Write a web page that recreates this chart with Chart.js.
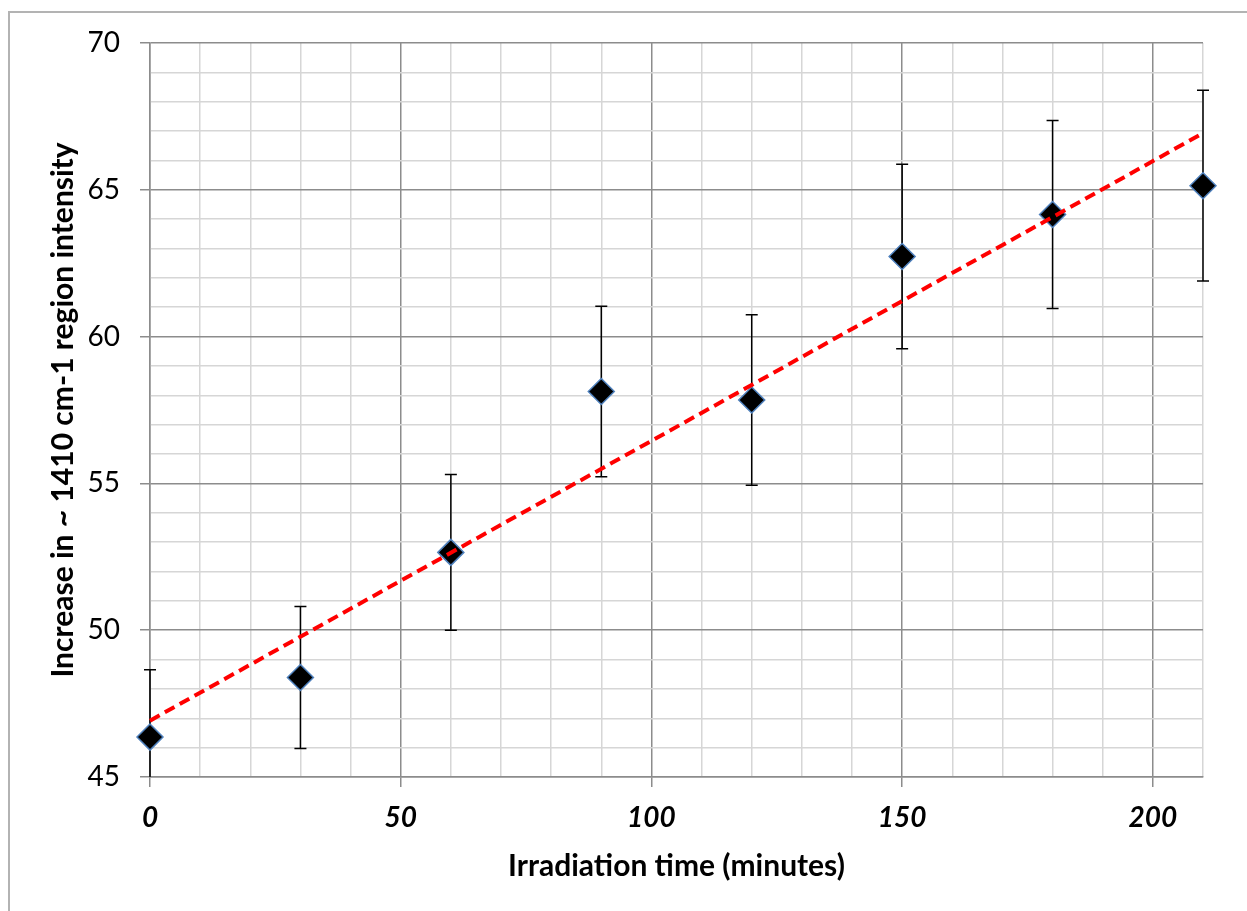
<!DOCTYPE html>
<html>
<head>
<meta charset="utf-8">
<script src="https://cdn.jsdelivr.net/npm/chart.js@4"></script>
<style>
    html, body { margin: 0; padding: 0; background: #fff; }
    #wrap { position: relative; width: 1247px; height: 911px; overflow: hidden; }
    #frame { position: absolute; left: 8px; top: 11px; width: 1300px; height: 1000px;
             border-left: 2px solid #b3b3b3; border-top: 2px solid #b3b3b3; }
    #chart { position: absolute; left: 0; top: 0; }
</style>
</head>
<body>
<div id="wrap">
    <div id="frame"></div>
    <canvas id="chart" width="1247" height="911"></canvas>
</div>
<script>
// irradiation times (minutes)
const times = [0, 30, 60, 90, 120, 150, 180, 210];
// mean increase in ~1410 cm-1 region intensity
const intensity = [46.36, 48.39, 52.65, 58.13, 57.84, 62.73, 64.16, 65.14];
// error bar half-widths
const errors = [2.29, 2.42, 2.65, 2.9, 2.9, 3.14, 3.2, 3.25];
// linear trendline end points
const trendX = [0, 210];
const trendY = [46.92, 66.93];

const FONT = 'Lato, "Open Sans", sans-serif';
const MAJOR = '#8c8c8c';
const MINOR = '#d6d6d6';

// draws vertical error bars with caps under the markers
const errorBars = {
    id: 'errorBars',
    beforeDatasetsDraw(chart) {
        const { ctx, chartArea, scales } = chart;
        ctx.save();
        ctx.beginPath();
        ctx.rect(chartArea.left - 10, chartArea.top, chartArea.right - chartArea.left + 20, chartArea.bottom - chartArea.top);
        ctx.clip();
        ctx.strokeStyle = '#000';
        ctx.lineWidth = 1.5;
        times.forEach((t, i) => {
            const x = scales.x.getPixelForValue(t);
            const yTop = scales.y.getPixelForValue(intensity[i] + errors[i]);
            const yBot = scales.y.getPixelForValue(intensity[i] - errors[i]);
            ctx.beginPath();
            ctx.moveTo(x, yTop);
            ctx.lineTo(x, yBot);
            ctx.moveTo(x - 6, yTop);
            ctx.lineTo(x + 6, yTop);
            ctx.moveTo(x - 6, yBot);
            ctx.lineTo(x + 6, yBot);
            ctx.stroke();
        });
        ctx.restore();
    }
};

new Chart(document.getElementById('chart').getContext('2d'), {
    type: 'scatter',
    data: {
        datasets: [
            {
                type: 'line',
                label: 'Trend',
                data: trendX.map((x, i) => ({ x: x, y: trendY[i] })),
                borderColor: '#ff0000',
                borderWidth: 4,
                borderDash: [11, 6],
                pointRadius: 0,
                fill: false,
                clip: false,
                order: 0
            },
            {
                label: 'Intensity',
                data: times.map((t, i) => ({ x: t, y: intensity[i] })),
                pointStyle: 'rectRot',
                pointRadius: 13,
                pointHoverRadius: 13,
                backgroundColor: '#000',
                borderColor: '#4f81bd',
                borderWidth: 1.5,
                clip: false,
                order: 1
            }
        ]
    },
    options: {
        responsive: false,
        animation: false,
        layout: { padding: { left: 0, top: 43, right: 44, bottom: 0 } },
        plugins: {
            legend: { display: false },
            tooltip: { enabled: false }
        },
        scales: {
            x: {
                type: 'linear',
                min: 0,
                max: 210,
                afterFit(scale) { scale.height = 134; },
                ticks: {
                    stepSize: 10,
                    autoSkip: false,
                    maxRotation: 0,
                    padding: 14,
                    color: '#000',
                    font: { family: FONT, size: 28, weight: 'bold', style: 'italic' },
                    callback: v => (v % 50 === 0 ? v : '')
                },
                grid: {
                    color: ctx => (ctx.tick && ctx.tick.value % 50 === 0 ? MAJOR : MINOR),
                    tickColor: ctx => (ctx.tick && ctx.tick.value % 50 === 0 ? MAJOR : 'rgba(0,0,0,0)'),
                    lineWidth: 1.5,
                    tickLength: 10
                },
                border: { color: MAJOR, width: 1.5 },
                title: {
                    display: true,
                    text: 'Irradiation time (minutes)',
                    color: '#000',
                    font: { family: FONT, size: 30, weight: 'bold' },
                    padding: { top: 0, bottom: 27 }
                }
            },
            y: {
                min: 45,
                max: 70,
                afterFit(scale) { scale.width = 150; },
                ticks: {
                    stepSize: 1,
                    autoSkip: false,
                    padding: 20,
                    color: '#000',
                    font: { family: FONT, size: 28 },
                    callback: v => (v % 5 === 0 ? v : '')
                },
                grid: {
                    color: ctx => (ctx.tick && ctx.tick.value % 5 === 0 ? MAJOR : MINOR),
                    tickColor: ctx => (ctx.tick && ctx.tick.value % 5 === 0 ? MAJOR : 'rgba(0,0,0,0)'),
                    lineWidth: 1.5,
                    tickLength: 10
                },
                border: { color: MAJOR, width: 1.5 },
                title: {
                    display: true,
                    text: 'Increase in ~ 1410 cm-1 region intensity',
                    color: '#000',
                    font: { family: FONT, size: 30, weight: 'bold' },
                    padding: { top: 45, bottom: 0 }
                }
            }
        }
    },
    plugins: [errorBars]
});
</script>
</body>
</html>
